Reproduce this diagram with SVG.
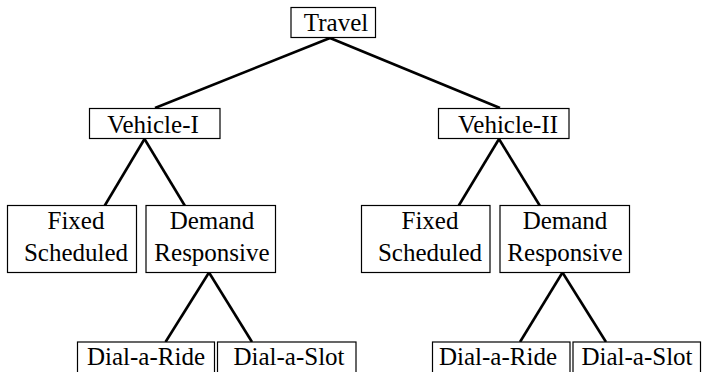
<svg xmlns="http://www.w3.org/2000/svg" width="703" height="372" viewBox="0 0 703 372">
<style>
.box{fill:#fff;stroke:#000;stroke-width:1.2}
.t{font-size:25px;fill:#000;text-anchor:middle}
.c line{stroke:#000;stroke-width:2.6;stroke-linecap:butt}
</style>
<rect width="703" height="372" fill="#fff"/>
<g class="c" id="connectors">
<line x1="330" y1="38" x2="155" y2="108"/>
<line x1="330" y1="38" x2="500" y2="108"/>
<line x1="144.5" y1="139" x2="104.5" y2="206"/>
<line x1="144.5" y1="139" x2="185" y2="206"/>
<line x1="499" y1="139" x2="458.5" y2="206"/>
<line x1="499" y1="139" x2="540" y2="206"/>
<line x1="209" y1="272.5" x2="165.5" y2="342"/>
<line x1="209" y1="272.5" x2="252" y2="342"/>
<line x1="562.5" y1="272.5" x2="520" y2="342"/>
<line x1="562.5" y1="272.5" x2="606" y2="342"/>
</g>
<g font-family="Liberation Serif, DejaVu Serif, serif">
<g id="travel"><rect class="box" x="291" y="7.5" width="84.5" height="30"/><text class="t" x="336" y="31">Travel</text></g>
<g id="vehicle1"><rect class="box" x="89.5" y="108.5" width="130.5" height="30"/><text class="t" x="153" y="133">Vehicle-I</text></g>
<g id="vehicle2"><rect class="box" x="438.5" y="108.5" width="130.5" height="30"/><text class="t" x="508" y="133">Vehicle-II</text></g>
<g id="fixed1"><rect class="box" x="7.5" y="205.5" width="129" height="67"/><text class="t" x="76" y="228.5">Fixed</text><text class="t" x="76" y="261">Scheduled</text></g>
<g id="demand1"><rect class="box" x="146" y="205.5" width="129.5" height="67"/><text class="t" x="212" y="228.5">Demand</text><text class="t" x="212" y="261">Responsive</text></g>
<g id="fixed2"><rect class="box" x="361.5" y="205.5" width="128.5" height="67"/><text class="t" x="430" y="228.5">Fixed</text><text class="t" x="430" y="261">Scheduled</text></g>
<g id="demand2"><rect class="box" x="500" y="205.5" width="129.5" height="67"/><text class="t" x="565" y="228.5">Demand</text><text class="t" x="565" y="261">Responsive</text></g>
<g id="dialride1"><rect class="box" x="77.5" y="342" width="137" height="40"/><text class="t" x="146" y="365">Dial-a-Ride</text></g>
<g id="dialslot1"><rect class="box" x="217.5" y="342" width="138.5" height="40"/><text class="t" x="289" y="365">Dial-a-Slot</text></g>
<g id="dialride2"><rect class="box" x="432.5" y="342" width="137.5" height="40"/><text class="t" x="498" y="365">Dial-a-Ride</text></g>
<g id="dialslot2"><rect class="box" x="573" y="342" width="127.5" height="40"/><text class="t" x="637" y="365">Dial-a-Slot</text></g>
</g>
</svg>
